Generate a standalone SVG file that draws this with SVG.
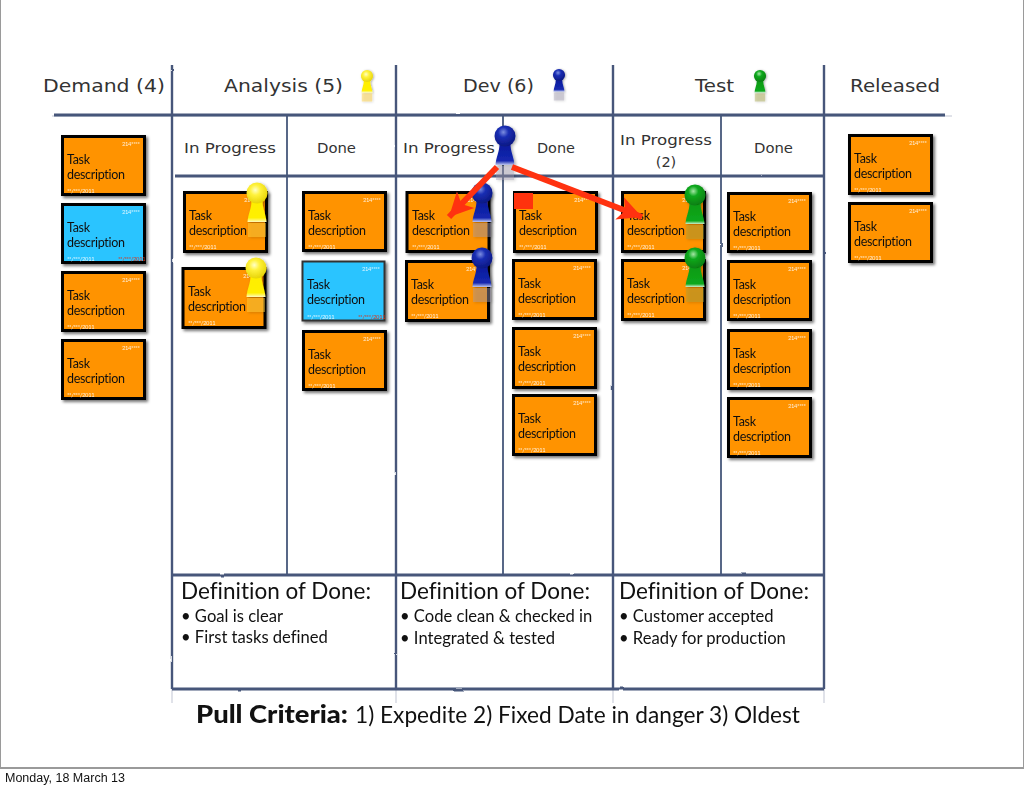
<svg xmlns="http://www.w3.org/2000/svg" width="1024" height="788" viewBox="0 0 1024 788">
<defs>
<filter id="rough" x="-5%" y="-5%" width="110%" height="110%"><feTurbulence type="fractalNoise" baseFrequency="0.06" numOctaves="2" seed="4"/><feDisplacementMap in="SourceGraphic" scale="1.6"/><feGaussianBlur stdDeviation="0.4"/></filter>
<filter id="shadow" x="-15%" y="-15%" width="130%" height="130%"><feDropShadow dx="2" dy="2" stdDeviation="1.8" flood-color="#000" flood-opacity="0.55"/></filter>
<filter id="pinShadow" x="-40%" y="-20%" width="180%" height="140%"><feDropShadow dx="1.5" dy="1" stdDeviation="1.5" flood-color="#000" flood-opacity="0.35"/></filter>
<radialGradient id="hy" cx="0.42" cy="0.36" r="0.7"><stop offset="0" stop-color="#ffffc8"/><stop offset="0.35" stop-color="#fff23c"/><stop offset="1" stop-color="#e4d000"/></radialGradient>
<radialGradient id="hb" cx="0.42" cy="0.32" r="0.7"><stop offset="0" stop-color="#7c8ee0"/><stop offset="0.35" stop-color="#1a2eb4"/><stop offset="1" stop-color="#0b1780"/></radialGradient>
<radialGradient id="hg" cx="0.42" cy="0.32" r="0.7"><stop offset="0" stop-color="#a5e6a5"/><stop offset="0.35" stop-color="#0ca81c"/><stop offset="1" stop-color="#067c10"/></radialGradient>
<linearGradient id="by" x1="0" y1="0" x2="0" y2="1"><stop offset="0" stop-color="#ffee00"/><stop offset="0.8" stop-color="#fff000"/><stop offset="1" stop-color="#fffcc0"/></linearGradient>
<linearGradient id="bb" x1="0" y1="0" x2="0" y2="1"><stop offset="0" stop-color="#0b1a9c"/><stop offset="0.8" stop-color="#1428b0"/><stop offset="1" stop-color="#c0c8f0"/></linearGradient>
<linearGradient id="bg" x1="0" y1="0" x2="0" y2="1"><stop offset="0" stop-color="#0a9a14"/><stop offset="0.85" stop-color="#0ca81c"/><stop offset="1" stop-color="#d0f0d0"/></linearGradient>
<linearGradient id="fade" x1="0" y1="0" x2="0" y2="1"><stop offset="0" stop-color="#fff" stop-opacity="1"/><stop offset="1" stop-color="#fff" stop-opacity="0"/></linearGradient>
<g id="pinY" filter="url(#pinShadow)"><rect x="-9" y="30" width="18" height="14" fill="#ffd040" opacity="0.45"/><path d="M-5.500,8C-5.500,16-9,21-9.500,29L9.500,29C9,21 5.500,16 5.500,8Z" fill="url(#by)"/><circle r="10.500" fill="url(#hy)"/></g>
<g id="pinB" filter="url(#pinShadow)"><rect x="-9" y="30" width="18" height="14" fill="#a09ab0" opacity="0.4"/><path d="M-5.500,8C-5.500,16-9,21-9.500,29L9.500,29C9,21 5.500,16 5.500,8Z" fill="url(#bb)"/><circle r="10.500" fill="url(#hb)"/></g>
<g id="pinG" filter="url(#pinShadow)"><rect x="-9" y="30" width="18" height="14" fill="#a0a040" opacity="0.4"/><path d="M-5.500,8C-5.500,16-9,21-9.500,29L9.500,29C9,21 5.500,16 5.500,8Z" fill="url(#bg)"/><circle r="10.500" fill="url(#hg)"/></g>
<marker id="head" markerUnits="userSpaceOnUse" markerWidth="28" markerHeight="28" refX="24" refY="13" orient="auto"><path d="M0,1L24,13L0,25L6,13Z" fill="#ff3210"/></marker>
</defs>
<style>
.frame{fill:#fff;stroke:#9a9a9a;stroke-width:2}
.ln{stroke:#46577a;stroke-width:2.4;fill:none}
.hz{stroke:#46577a;stroke-width:2.8;fill:none}
.fa{stroke:#46577a;stroke-width:1;fill:none;opacity:.35}
.sub{stroke:#46577a;stroke-width:1.8;fill:none}
.card{stroke:#000;stroke-width:3;fill:#ff9300}
.blue{fill:#2ac4ff}
.thin{stroke:#333;stroke-width:2}
text{font-variant-ligatures:none}
.t{font-family:"Lato","Liberation Sans",sans-serif;font-size:12.5px;letter-spacing:-.3px;fill:#111}
.s{font-family:"Lato","Liberation Sans",sans-serif;font-size:5.8px;letter-spacing:-.35px;fill:#fff;opacity:.85}
.r{font-family:"Lato","Liberation Sans",sans-serif;font-size:5.8px;letter-spacing:-.35px;fill:#d8361a}
.h{font-family:"DejaVu Sans",sans-serif;font-size:18px;fill:#333}
.h2{font-family:"DejaVu Sans",sans-serif;font-size:14.5px;fill:#333}
.d{font-family:"Lato","Liberation Sans",sans-serif;font-size:22.5px;fill:#111}
.b{font-family:"Lato","Liberation Sans",sans-serif;font-size:16.6px;fill:#111}
.p{font-family:"Lato","Liberation Sans",sans-serif;font-size:24px;fill:#111}
.pb{font-family:"Lato","Liberation Sans",sans-serif;font-size:24px;font-weight:900;fill:#111}
.foot{font-family:"Liberation Sans",sans-serif;font-size:12.5px;fill:#111}
.arrow{stroke:#ff3210;stroke-width:6;fill:none;marker-end:url(#head)}
</style>
<rect class="frame" x="0" y="-1" width="1024" height="769"/>
<g id="grid" filter="url(#rough)">
<path class="ln" d="M172 65V689M396 65V689M613 65V689M824 65V689"/>
<path class="fa" d="M172 689V703M396 689V703M613 689V703M824 689V703"/>
<path class="hz" d="M54 115H945M175 176H824M172 575H824M172 689H824"/>
<path class="fa" d="M52 116H952"/>
<path class="sub" d="M287 116V575M503 116V575M721 116V575"/>
</g>
<g id="headers">
<text class="h" x="43" y="92" textLength="122" lengthAdjust="spacingAndGlyphs">Demand (4)</text>
<text class="h" x="224" y="92" textLength="119" lengthAdjust="spacingAndGlyphs">Analysis (5)</text>
<text class="h" x="463" y="92" textLength="71" lengthAdjust="spacingAndGlyphs">Dev (6)</text>
<text class="h" x="695" y="92" textLength="39" lengthAdjust="spacingAndGlyphs">Test</text>
<text class="h" x="850" y="92" textLength="90" lengthAdjust="spacingAndGlyphs">Released</text>
<text class="h2" x="184" y="153" textLength="92" lengthAdjust="spacingAndGlyphs">In Progress</text>
<text class="h2" x="317" y="153" textLength="39" lengthAdjust="spacingAndGlyphs">Done</text>
<text class="h2" x="403" y="153" textLength="92" lengthAdjust="spacingAndGlyphs">In Progress</text>
<text class="h2" x="537" y="153" textLength="38" lengthAdjust="spacingAndGlyphs">Done</text>
<text class="h2" x="620" y="145" textLength="92" lengthAdjust="spacingAndGlyphs">In Progress</text>
<text class="h2" x="666" y="167" text-anchor="middle">(2)</text>
<text class="h2" x="754" y="153" textLength="39" lengthAdjust="spacingAndGlyphs">Done</text>
</g>
<g id="card-d1" filter="url(#shadow)"><rect class="card" x="62.500" y="136.500" width="82" height="58"/><text class="s" x="122" y="146">214****</text><text class="t" x="67" y="164">Task</text><text class="t" x="67" y="179">description</text><text class="s" x="67" y="193">**/***/2011</text></g>
<g id="card-d2" filter="url(#shadow)"><rect class="card blue" x="62.500" y="204.500" width="82" height="58"/><text class="s" x="122" y="214">214****</text><text class="t" x="67" y="232">Task</text><text class="t" x="67" y="247">description</text><text class="s" x="67" y="261">**/***/2011</text><text class="r" x="118" y="261">**/***/2011</text></g>
<g id="card-d3" filter="url(#shadow)"><rect class="card" x="62.500" y="272.500" width="82" height="58"/><text class="s" x="122" y="282">214****</text><text class="t" x="67" y="300">Task</text><text class="t" x="67" y="315">description</text><text class="s" x="67" y="329">**/***/2011</text></g>
<g id="card-d4" filter="url(#shadow)"><rect class="card" x="62.500" y="340.500" width="82" height="58"/><text class="s" x="122" y="350">214****</text><text class="t" x="67" y="368">Task</text><text class="t" x="67" y="383">description</text><text class="s" x="67" y="397">**/***/2011</text></g>
<g id="card-a1" filter="url(#shadow)"><rect class="card" x="184.500" y="192.500" width="82" height="59"/><text class="s" x="244" y="202">214****</text><text class="t" x="189" y="220">Task</text><text class="t" x="189" y="235">description</text><text class="s" x="189" y="249">**/***/2011</text></g>
<g id="card-a2" filter="url(#shadow)"><rect class="card" x="183" y="268.500" width="82" height="59"/><text class="s" x="243" y="278">214****</text><text class="t" x="188" y="296">Task</text><text class="t" x="188" y="311">description</text><text class="s" x="188" y="325">**/***/2011</text></g>
<g id="card-a3" filter="url(#shadow)"><rect class="card" x="303.500" y="192.500" width="82" height="58"/><text class="s" x="363" y="202">214****</text><text class="t" x="308" y="220">Task</text><text class="t" x="308" y="235">description</text><text class="s" x="308" y="249">**/***/2011</text></g>
<g id="card-a4" filter="url(#shadow)"><rect class="card blue thin" x="302.500" y="261.500" width="82" height="59"/><text class="s" x="362" y="271">214****</text><text class="t" x="307" y="289">Task</text><text class="t" x="307" y="304">description</text><text class="s" x="307" y="319">**/***/2011</text><text class="r" x="358" y="319">**/***/2011</text></g>
<g id="card-a5" filter="url(#shadow)"><rect class="card" x="303.500" y="331.500" width="82" height="58"/><text class="s" x="363" y="341">214****</text><text class="t" x="308" y="359">Task</text><text class="t" x="308" y="374">description</text><text class="s" x="308" y="388">**/***/2011</text></g>
<g id="card-v1" filter="url(#shadow)"><rect class="card" x="407" y="192.500" width="82" height="59"/><text class="s" x="467" y="202">214****</text><text class="t" x="412" y="220">Task</text><text class="t" x="412" y="235">description</text><text class="s" x="412" y="249">**/***/2011</text></g>
<g id="card-v2" filter="url(#shadow)"><rect class="card" x="406.500" y="261.500" width="82" height="59"/><text class="s" x="466" y="271">214****</text><text class="t" x="411" y="289">Task</text><text class="t" x="411" y="304">description</text><text class="s" x="411" y="318">**/***/2011</text></g>
<g id="card-v3" filter="url(#shadow)"><rect class="card" x="514.500" y="192.500" width="82" height="59"/><text class="s" x="574" y="202">214****</text><text class="t" x="519" y="220">Task</text><text class="t" x="519" y="235">description</text><text class="s" x="519" y="249">**/***/2011</text><rect x="514" y="193" width="19" height="16" fill="#ff3210"/></g>
<g id="card-v4" filter="url(#shadow)"><rect class="card" x="513.500" y="260.500" width="82" height="58"/><text class="s" x="573" y="270">214****</text><text class="t" x="518" y="288">Task</text><text class="t" x="518" y="303">description</text><text class="s" x="518" y="317">**/***/2011</text></g>
<g id="card-v5" filter="url(#shadow)"><rect class="card" x="513.500" y="328.500" width="82" height="59"/><text class="s" x="573" y="338">214****</text><text class="t" x="518" y="356">Task</text><text class="t" x="518" y="371">description</text><text class="s" x="518" y="385">**/***/2011</text></g>
<g id="card-v6" filter="url(#shadow)"><rect class="card" x="513.500" y="395.500" width="82" height="59"/><text class="s" x="573" y="405">214****</text><text class="t" x="518" y="423">Task</text><text class="t" x="518" y="438">description</text><text class="s" x="518" y="452">**/***/2011</text></g>
<g id="card-t1" filter="url(#shadow)"><rect class="card" x="622.500" y="192.500" width="82" height="59"/><text class="s" x="682" y="202">214****</text><text class="t" x="627" y="220">Task</text><text class="t" x="627" y="235">description</text><text class="s" x="627" y="249">**/***/2011</text></g>
<g id="card-t2" filter="url(#shadow)"><rect class="card" x="622.500" y="260.500" width="82" height="59"/><text class="s" x="682" y="270">214****</text><text class="t" x="627" y="288">Task</text><text class="t" x="627" y="303">description</text><text class="s" x="627" y="317">**/***/2011</text></g>
<g id="card-t3" filter="url(#shadow)"><rect class="card" x="728.500" y="193.500" width="82" height="58"/><text class="s" x="788" y="203">214****</text><text class="t" x="733" y="221">Task</text><text class="t" x="733" y="236">description</text><text class="s" x="733" y="250">**/***/2011</text></g>
<g id="card-t4" filter="url(#shadow)"><rect class="card" x="728.500" y="261.500" width="82" height="58"/><text class="s" x="788" y="271">214****</text><text class="t" x="733" y="289">Task</text><text class="t" x="733" y="304">description</text><text class="s" x="733" y="318">**/***/2011</text></g>
<g id="card-t5" filter="url(#shadow)"><rect class="card" x="728.500" y="330.500" width="82" height="58"/><text class="s" x="788" y="340">214****</text><text class="t" x="733" y="358">Task</text><text class="t" x="733" y="373">description</text><text class="s" x="733" y="387">**/***/2011</text></g>
<g id="card-t6" filter="url(#shadow)"><rect class="card" x="728.500" y="398.500" width="82" height="58"/><text class="s" x="788" y="408">214****</text><text class="t" x="733" y="426">Task</text><text class="t" x="733" y="441">description</text><text class="s" x="733" y="455">**/***/2011</text></g>
<g id="card-r1" filter="url(#shadow)"><rect class="card" x="849.500" y="135.500" width="82" height="58"/><text class="s" x="909" y="145">214****</text><text class="t" x="854" y="163">Task</text><text class="t" x="854" y="178">description</text><text class="s" x="854" y="192">**/***/2011</text></g>
<g id="card-r2" filter="url(#shadow)"><rect class="card" x="849.500" y="203.500" width="82" height="58"/><text class="s" x="909" y="213">214****</text><text class="t" x="854" y="231">Task</text><text class="t" x="854" y="246">description</text><text class="s" x="854" y="260">**/***/2011</text></g>
<g id="pins">
<use href="#pinY" transform="translate(367,76) scale(.58)"/>
<use href="#pinB" transform="translate(559,75) scale(.58)"/>
<use href="#pinG" transform="translate(760,76) scale(.58)"/>
<use href="#pinY" transform="translate(257,193)"/>
<use href="#pinY" transform="translate(256,268)"/>
<use href="#pinB" transform="translate(482,193)"/>
<use href="#pinB" transform="translate(482,258)"/>
<use href="#pinG" transform="translate(695,195)"/>
<use href="#pinG" transform="translate(695,258)"/>
<use href="#pinB" transform="translate(505,136)"/>
</g>
<g id="connectors">
<path class="arrow" d="M497 167L449 217"/>
<path class="arrow" d="M512 167L642 217"/>
</g>
<g id="definitions">
<text class="d" x="181" y="599">Definition of Done:</text>
<text class="b" x="181" y="622">• Goal is clear</text>
<text class="b" x="181" y="643">• First tasks defined</text>
<text class="d" x="400" y="599">Definition of Done:</text>
<text class="b" x="400" y="622">• Code clean &amp; checked in</text>
<text class="b" x="400" y="644">• Integrated &amp; tested</text>
<text class="d" x="619" y="599">Definition of Done:</text>
<text class="b" x="619" y="622">• Customer accepted</text>
<text class="b" x="619" y="644">• Ready for production</text>
</g>
<g id="criteria">
<text class="pb" x="196" y="723" textLength="152" lengthAdjust="spacingAndGlyphs">Pull Criteria:</text>
<text class="p" x="355" y="723" textLength="445" lengthAdjust="spacingAndGlyphs">1) Expedite 2) Fixed Date in danger 3) Oldest</text>
</g>
<text class="foot" x="5" y="782">Monday, 18 March 13</text>
</svg>
